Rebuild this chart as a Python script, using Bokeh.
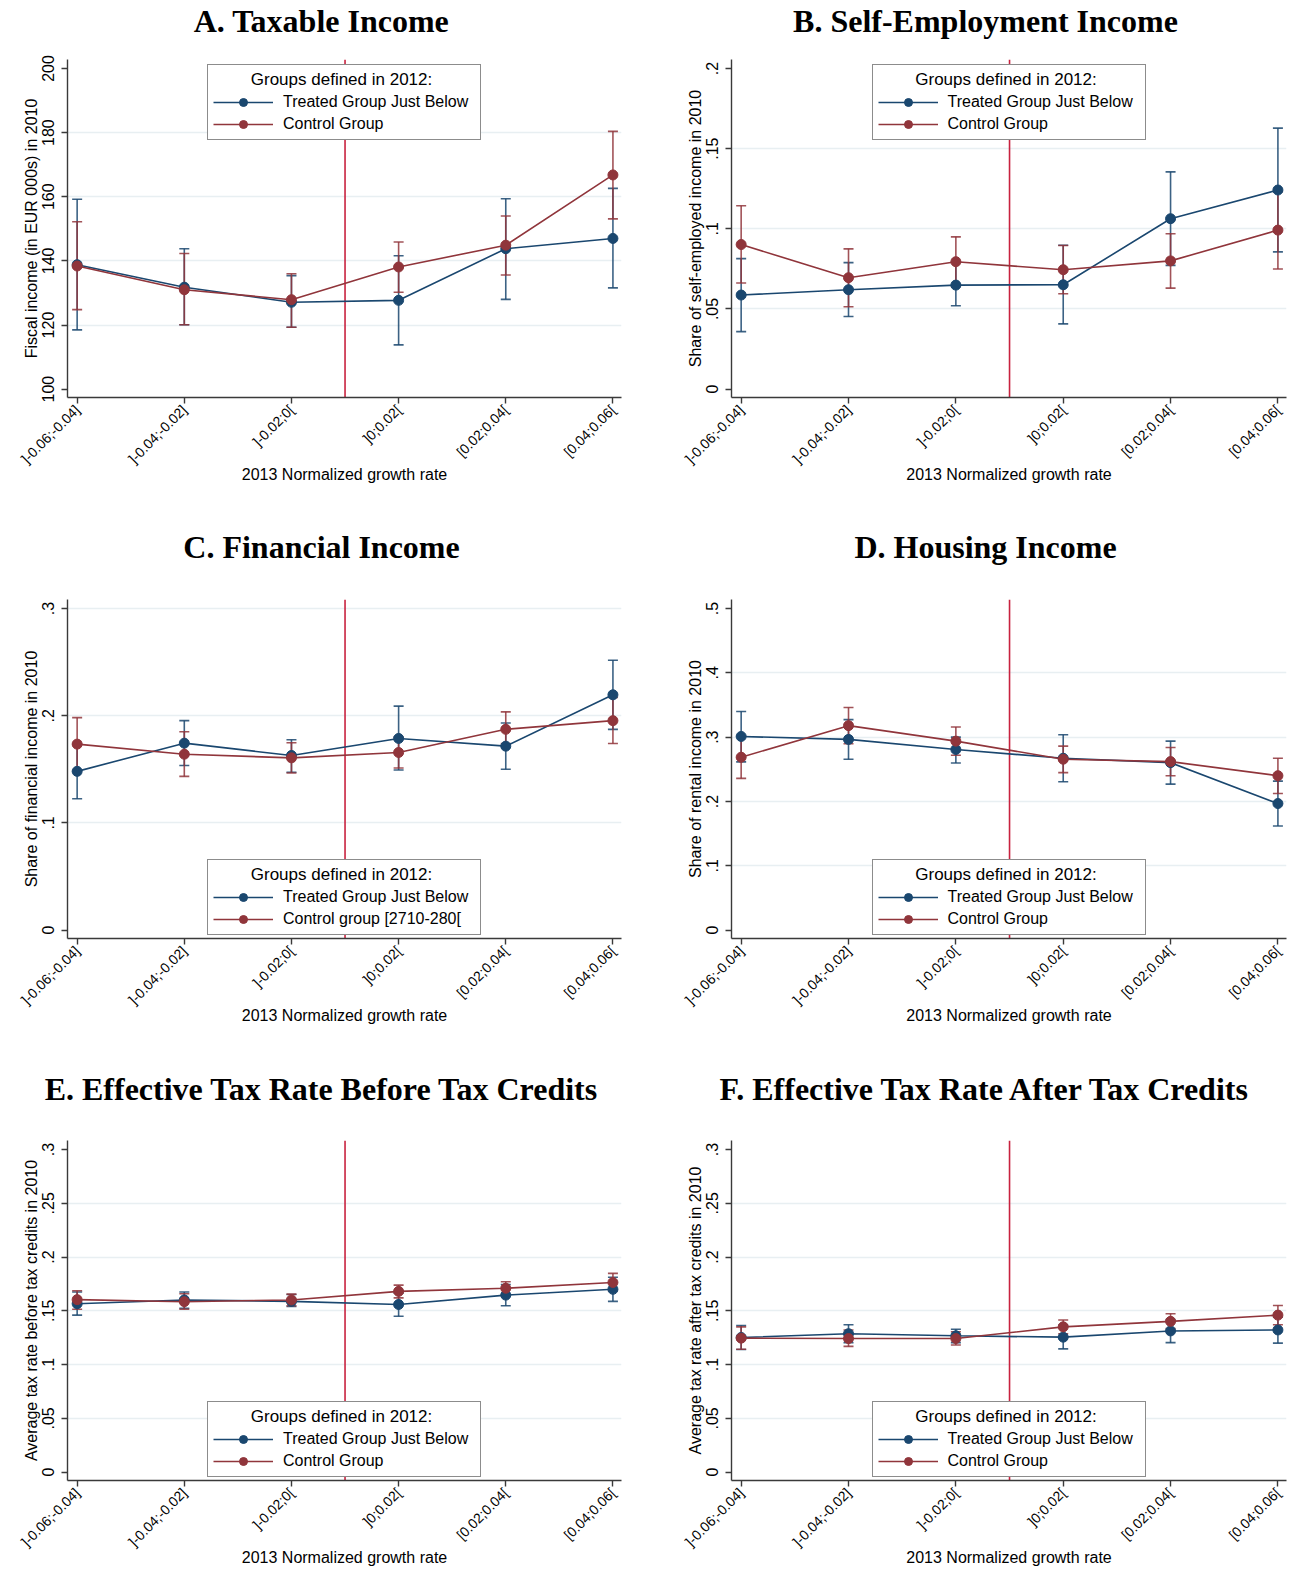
import math
from bokeh.plotting import figure
from bokeh.models import Range1d, FixedTicker, Span, Legend, LegendItem
from bokeh.layouts import column, row
from bokeh.embed import file_html
from bokeh.resources import INLINE
from bokeh.core.properties import value

# ---------------- data ----------------
categories = ["]-0.06;-0.04]", "]-0.04;-0.02]", "]-0.02;0[", "]0;0.02[", "[0.02;0.04[", "[0.04;0.06["]
x_label = "2013 Normalized growth rate"
legend_title = "Groups defined in 2012:"
treated_label = "Treated Group Just Below"
panel_titles = ["A. Taxable Income", "B. Self-Employment Income",
                "C. Financial Income", "D. Housing Income",
                "E. Effective Tax Rate Before Tax Credits", "F. Effective Tax Rate After Tax Credits"]

# A. Taxable Income
a_yticks = [100, 120, 140, 160, 180, 200]
a_ylabels = ["100", "120", "140", "160", "180", "200"]
a_grid = [120, 140, 160, 180]
a_treat = [138.8, 131.8, 127.1, 127.7, 143.8, 147.0]
a_treat_lo = [118.5, 120.1, 119.3, 113.8, 128.0, 131.6]
a_treat_hi = [159.2, 143.8, 135.4, 141.6, 159.4, 162.6]
a_ctrl = [138.4, 131.0, 127.9, 138.1, 144.9, 166.8]
a_ctrl_lo = [124.8, 120.1, 119.3, 130.2, 135.6, 153.1]
a_ctrl_hi = [152.2, 142.3, 136.0, 145.9, 154.0, 180.4]

# B. Self-Employment Income
b_yticks = [0, 0.05, 0.1, 0.15, 0.2]
b_ylabels = ["0", ".05", ".1", ".15", ".2"]
b_grid = [0.05, 0.1, 0.15]
b_treat = [0.0587, 0.0620, 0.0649, 0.0651, 0.1063, 0.1242]
b_treat_lo = [0.0359, 0.0453, 0.0520, 0.0407, 0.0772, 0.0856]
b_treat_hi = [0.0814, 0.0789, 0.0795, 0.0898, 0.1355, 0.1628]
b_ctrl = [0.0902, 0.0695, 0.0795, 0.0745, 0.0800, 0.0992]
b_ctrl_lo = [0.0662, 0.0514, 0.0641, 0.0595, 0.0630, 0.0749]
b_ctrl_hi = [0.1144, 0.0875, 0.0950, 0.0896, 0.0969, 0.1232]

# C. Financial Income
c_yticks = [0, 0.1, 0.2, 0.3]
c_ylabels = ["0", ".1", ".2", ".3"]
c_grid = [0.1, 0.2, 0.3]
c_treat = [0.1481, 0.1744, 0.1629, 0.1788, 0.1716, 0.2195]
c_treat_lo = [0.1225, 0.1535, 0.1472, 0.1494, 0.1500, 0.1873]
c_treat_hi = [0.1737, 0.1954, 0.1776, 0.2089, 0.1932, 0.2518]
c_ctrl = [0.1735, 0.1641, 0.1607, 0.1657, 0.1873, 0.1954]
c_ctrl_lo = [0.1490, 0.1434, 0.1466, 0.1513, 0.1741, 0.1741]
c_ctrl_hi = [0.1982, 0.1851, 0.1748, 0.1800, 0.2036, 0.2170]

# D. Housing Income
d_yticks = [0, 0.1, 0.2, 0.3, 0.4, 0.5]
d_ylabels = ["0", ".1", ".2", ".3", ".4", ".5"]
d_grid = [0.1, 0.2, 0.3, 0.4]
d_treat = [0.3011, 0.2965, 0.2808, 0.2672, 0.2604, 0.1968]
d_treat_lo = [0.2615, 0.2657, 0.2599, 0.2307, 0.2270, 0.1618]
d_treat_hi = [0.3398, 0.3272, 0.3001, 0.3038, 0.2938, 0.2317]
d_ctrl = [0.2688, 0.3179, 0.2938, 0.2657, 0.2620, 0.2401]
d_ctrl_lo = [0.2359, 0.2897, 0.2719, 0.2448, 0.2401, 0.2124]
d_ctrl_hi = [0.3017, 0.3460, 0.3158, 0.2860, 0.2839, 0.2672]

# E. Effective Tax Rate Before Tax Credits
e_yticks = [0, 0.05, 0.1, 0.15, 0.2, 0.25, 0.3]
e_ylabels = ["0", ".05", ".1", ".15", ".2", ".25", ".3"]
e_grid = [0.05, 0.1, 0.15, 0.2, 0.25]
e_treat = [0.1566, 0.1601, 0.1588, 0.1559, 0.1646, 0.1700]
e_treat_lo = [0.1460, 0.1524, 0.1540, 0.1450, 0.1547, 0.1588]
e_treat_hi = [0.1675, 0.1675, 0.1652, 0.1665, 0.1745, 0.1812]
e_ctrl = [0.1604, 0.1585, 0.1601, 0.1681, 0.1710, 0.1764]
e_ctrl_lo = [0.1515, 0.1515, 0.1547, 0.1620, 0.1649, 0.1684]
e_ctrl_hi = [0.1687, 0.1659, 0.1655, 0.1739, 0.1771, 0.1848]

# F. Effective Tax Rate After Tax Credits
f_yticks = [0, 0.05, 0.1, 0.15, 0.2, 0.25, 0.3]
f_ylabels = ["0", ".05", ".1", ".15", ".2", ".25", ".3"]
f_grid = [0.05, 0.1, 0.15, 0.2, 0.25]
f_treat = [0.1252, 0.1287, 0.1268, 0.1255, 0.1313, 0.1322]
f_treat_lo = [0.1140, 0.1204, 0.1204, 0.1146, 0.1204, 0.1200]
f_treat_hi = [0.1364, 0.1370, 0.1329, 0.1367, 0.1418, 0.1441]
f_ctrl = [0.1246, 0.1242, 0.1242, 0.1351, 0.1402, 0.1460]
f_ctrl_lo = [0.1143, 0.1169, 0.1182, 0.1287, 0.1335, 0.1370]
f_ctrl_hi = [0.1351, 0.1322, 0.1306, 0.1415, 0.1473, 0.1550]

# ---------------- style ----------------
BLUE = "#1a476f"
RED = "#90353b"
VLINE = "#c8223f"
GRID = "#e8eff2"
AXIS = "#3a3a3a"
SANS = "Liberation Sans"
SERIF = "Liberation Serif"
PAGE_W = 1306

# column geometry: width, min_border_left, min_border_right
COL1 = (653, 67, 32)
COL2 = (653, 78, 20)
# panel row geometry: height, min_border_top, min_border_bottom
ROW1 = (475, 14, 123)
ROW2 = (480, 24, 117)
ROW3 = (465, 25, 100)
# title strips: height, title centre distance from strip top
STRIP1 = (45, 20.5)
STRIP2 = (55, 26.5)
STRIP3 = (60, 33.0)
TITLE_FROM_FRAME_LEFT = 254


def title_strip(strip, left_title, right_title):
    h, dy = strip
    s = figure(width=PAGE_W, height=h, output_backend="svg", toolbar_location=None,
               x_range=Range1d(0, PAGE_W), y_range=Range1d(0, h),
               x_axis_location=None, y_axis_location=None,
               min_border_left=0, min_border_right=0, min_border_top=0, min_border_bottom=0)
    s.outline_line_color = None
    s.xgrid.visible = False
    s.ygrid.visible = False
    xs = [COL1[1] + TITLE_FROM_FRAME_LEFT, COL1[0] + COL2[1] + TITLE_FROM_FRAME_LEFT]
    s.text(x=xs, y=[h - dy, h - dy], text=[left_title, right_title],
           text_align="center", text_baseline="middle",
           text_font=value(SERIF), text_font_style="bold", text_font_size="32px",
           text_color="black")
    return s


def make_panel(ylabel, yticks, ylabels, grid, treat, tlo, thi,
               ctrl, clo, chi, ctrl_label, legend_top, col, rw):
    width, mbl, mbr = col
    height, mbt, mbb = rw
    xs = list(range(1, len(categories) + 1))
    span = yticks[-1] - yticks[0]
    y0 = yticks[0] - 0.026 * span
    y1 = yticks[-1] + 0.028 * span
    p = figure(width=width, height=height, output_backend="svg", toolbar_location=None,
               x_range=Range1d(xs[0] - 0.09, xs[-1] + 0.08), y_range=Range1d(y0, y1),
               min_border_left=mbl, min_border_right=mbr,
               min_border_top=mbt, min_border_bottom=mbb)
    p.outline_line_color = None
    p.background_fill_color = "white"
    p.border_fill_color = "white"

    # axes
    p.xaxis.ticker = FixedTicker(ticks=xs)
    p.xaxis.major_label_overrides = {x: c for x, c in zip(xs, categories)}
    p.xaxis.major_label_orientation = math.pi / 4
    p.xaxis.major_label_text_font_size = "14px"
    p.xaxis.axis_label = x_label
    p.yaxis.ticker = FixedTicker(ticks=yticks)
    p.yaxis.major_label_overrides = {t: l for t, l in zip(yticks, ylabels)}
    p.yaxis.major_label_orientation = "vertical"
    p.yaxis.major_label_text_font_size = "16px"
    p.yaxis.axis_label = ylabel
    for ax in (p.xaxis[0], p.yaxis[0]):
        ax.axis_line_color = AXIS
        ax.axis_line_width = 1.4
        ax.major_tick_line_color = AXIS
        ax.major_tick_line_width = 1.4
        ax.major_tick_in = 0
        ax.major_tick_out = 6
        ax.minor_tick_line_color = None
        ax.major_label_text_font = SANS
        ax.major_label_text_color = "black"
        ax.axis_label_text_font = SANS
        ax.axis_label_text_font_style = "normal"
        ax.axis_label_text_font_size = "16px"
        ax.axis_label_text_color = "black"
    p.xaxis.major_label_standoff = 4
    p.xaxis.axis_label_standoff = -9
    p.yaxis.major_label_standoff = 7
    p.yaxis.axis_label_standoff = 0
    p.xgrid.visible = False
    p.ygrid.ticker = FixedTicker(ticks=grid)
    p.ygrid.grid_line_color = GRID
    p.ygrid.grid_line_width = 1.5

    # vertical separator between negative and positive growth bins
    p.add_layout(Span(location=(xs[0] + xs[-1]) / 2, dimension="height",
                      line_color=VLINE, line_width=1.6, level="underlay"))

    # confidence intervals
    for lo, hi, colr in ((tlo, thi, BLUE), (clo, chi, RED)):
        p.segment(x0=xs, y0=lo, x1=xs, y1=hi, line_color=colr, line_width=1.6, line_alpha=0.85)
        p.scatter(x=xs + xs, y=lo + hi, marker="dash", size=10, line_color=colr,
                  line_width=1.6, line_alpha=0.85)

    # series
    lt = p.line(xs, treat, line_color=BLUE, line_width=1.6)
    st = p.scatter(xs, treat, size=10, fill_color=BLUE, line_color=BLUE)
    lc = p.line(xs, ctrl, line_color=RED, line_width=1.6)
    sc = p.scatter(xs, ctrl, size=10, fill_color=RED, line_color=RED)

    # legend title is centred inside the box (non-breaking spaces as indent)
    legend = Legend(items=[LegendItem(label=treated_label, renderers=[lt, st]),
                           LegendItem(label=ctrl_label, renderers=[lc, sc])],
                    location="top_center" if legend_top else "bottom_center",
                    title="\u00a0" * 8 + legend_title,
                    title_text_font=SANS, title_text_font_style="normal",
                    title_text_font_size="17px", title_text_color="black", title_standoff=2,
                    border_line_color="#1a1a1a", border_line_width=1.2,
                    background_fill_color="white", background_fill_alpha=1.0,
                    label_text_font=SANS, label_text_font_size="16px",
                    label_text_color="black",
                    glyph_width=60, glyph_height=20, label_height=20, label_width=192,
                    spacing=2, padding=5, label_standoff=10,
                    margin=5 if legend_top else 3)
    p.add_layout(legend)
    return p


pa = make_panel("Fiscal income (in EUR 000s) in 2010",
                a_yticks, a_ylabels, a_grid, a_treat, a_treat_lo, a_treat_hi,
                a_ctrl, a_ctrl_lo, a_ctrl_hi, "Control Group", True, COL1, ROW1)
pb = make_panel("Share of self-employed income in 2010",
                b_yticks, b_ylabels, b_grid, b_treat, b_treat_lo, b_treat_hi,
                b_ctrl, b_ctrl_lo, b_ctrl_hi, "Control Group", True, COL2, ROW1)
pc = make_panel("Share of financial income in 2010",
                c_yticks, c_ylabels, c_grid, c_treat, c_treat_lo, c_treat_hi,
                c_ctrl, c_ctrl_lo, c_ctrl_hi, "Control group [2710-280[", False, COL1, ROW2)
pd_ = make_panel("Share of rental income in 2010",
                 d_yticks, d_ylabels, d_grid, d_treat, d_treat_lo, d_treat_hi,
                 d_ctrl, d_ctrl_lo, d_ctrl_hi, "Control Group", False, COL2, ROW2)
pe = make_panel("Average tax rate before tax credits in 2010",
                e_yticks, e_ylabels, e_grid, e_treat, e_treat_lo, e_treat_hi,
                e_ctrl, e_ctrl_lo, e_ctrl_hi, "Control Group", False, COL1, ROW3)
pf = make_panel("Average tax rate after tax credits in 2010",
                f_yticks, f_ylabels, f_grid, f_treat, f_treat_lo, f_treat_hi,
                f_ctrl, f_ctrl_lo, f_ctrl_hi, "Control Group", False, COL2, ROW3)

s1 = title_strip(STRIP1, panel_titles[0], panel_titles[1])
s2 = title_strip(STRIP2, panel_titles[2], panel_titles[3])
s3 = title_strip(STRIP3, panel_titles[4], panel_titles[5])

layout = column(s1, row(pa, pb), s2, row(pc, pd_), s3, row(pe, pf))
open("out.html", "w").write(file_html(layout, INLINE))
